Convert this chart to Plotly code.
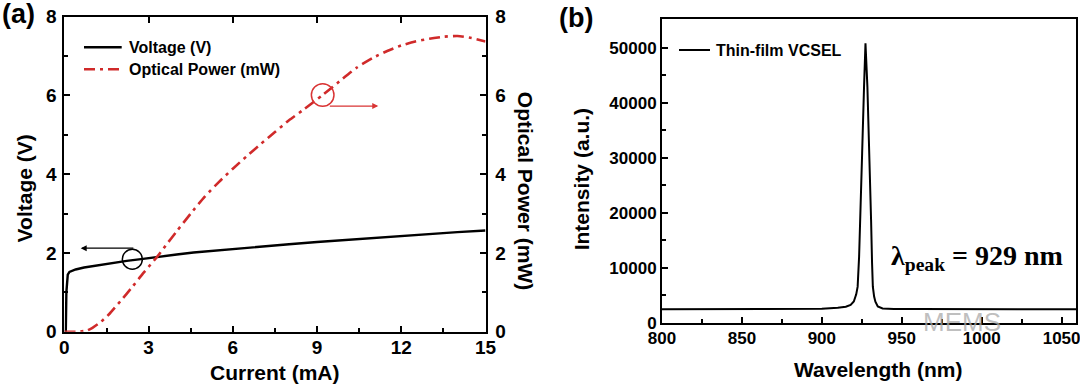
import plotly.graph_objects as go

# ---------------- Data: panel (a) ----------------
current_v = [0.0, 0.05, 0.07, 0.09, 0.12, 0.18, 0.4, 0.7, 1.03, 1.5, 2.22, 2.8, 3.29, 4.0, 4.6, 5.5, 6.97, 8.0, 9.0, 10.0, 11.0, 12.0, 13.0, 14.0, 15.0]
voltage = [0.0, 0.0, 1.0, 1.38, 1.45, 1.52, 1.58, 1.63, 1.67, 1.73, 1.80, 1.85, 1.90, 1.96, 2.01, 2.07, 2.16, 2.22, 2.28, 2.33, 2.39, 2.44, 2.49, 2.53, 2.57]

current_p = [0.0, 0.5, 0.8, 1.0, 1.3, 1.6, 2.0, 2.4, 2.8, 3.3, 3.6, 4.0, 4.5, 5.0, 5.5, 6.0, 6.5, 7.0, 7.5, 8.0, 8.5, 9.2, 9.8, 10.4, 11.0, 11.5, 12.0, 12.5, 13.0, 13.5, 14.0, 14.5, 15.0]
power = [0.0, 0.0, 0.03, 0.1, 0.25, 0.45, 0.78, 1.12, 1.48, 1.90, 2.18, 2.55, 3.0, 3.43, 3.80, 4.14, 4.46, 4.77, 5.07, 5.37, 5.63, 6.01, 6.36, 6.70, 6.96, 7.13, 7.27, 7.37, 7.44, 7.49, 7.51, 7.46, 7.37]

# annotation anchors (data units)
v_circle = (2.42, 1.84)
v_arrow_tail = (2.51, 2.12)
v_arrow_head = (0.58, 2.12)
p_circle = (9.2, 6.01)
p_arrow_tail = (9.4, 5.73)
p_arrow_head = (11.18, 5.73)

# ---------------- Data: panel (b) ----------------
wavelength = [800, 880, 900, 910, 915, 918, 920, 921.5, 922.4, 923.3, 924.1, 925.2, 926.4, 927.3,
              928.5, 929.8, 930.8, 931.4, 931.9, 932.7, 933.5, 935, 938, 945, 960, 1059]
intensity = [2500, 2520, 2600, 2750, 2950, 3300, 3900, 5200, 6600, 12000, 18700, 30800, 42900, 50800,
             42900, 30800, 18700, 11000, 6600, 4800, 3870, 3000, 2650, 2550, 2520, 2500]

x_ticks_a = [0, 3, 6, 9, 12, 15]
y_ticks_a = [0, 2, 4, 6, 8]
x_ticks_b = [800, 850, 900, 950, 1000, 1050]
y_ticks_b = [0, 10000, 20000, 30000, 40000, 50000]

W, H = 1080, 385
def px(x):
    return x / W
def py(y):
    return 1 - y / H

RED = "#d02a2a"
RED2 = "#d93434"
DASH = "11px,5px,3px,5px"
FONT = "Liberation Sans"

fig = go.Figure()
fig.add_trace(go.Scatter(x=current_v, y=voltage, mode="lines", name="Voltage (V)",
                         line=dict(color="black", width=2.4), xaxis="x", yaxis="y", showlegend=False))
fig.add_trace(go.Scatter(x=current_p, y=power, mode="lines", name="Optical Power (mW)",
                         line=dict(color=RED, width=2.6, dash=DASH, shape="spline", smoothing=0.6),
                         xaxis="x", yaxis="y2", showlegend=False))
fig.add_trace(go.Scatter(x=[None], y=[None], xaxis="x3", yaxis="y", showlegend=False, hoverinfo="skip"))
fig.add_trace(go.Scatter(x=wavelength, y=intensity, mode="lines", name="Thin-film VCSEL",
                         line=dict(color="black", width=2), xaxis="x2", yaxis="y3", showlegend=False))

tickfont_a = dict(family=FONT, size=19, color="black", weight="bold")
tickfont_b = dict(family=FONT, size=17, color="black", weight="bold")
common = dict(showline=True, linecolor="black", linewidth=2, ticks="inside", tickcolor="black",
              tickwidth=2, ticklen=6, showgrid=False, zeroline=False, ticklabeloverflow="allow")

fig.update_layout(
    width=W, height=H, margin=dict(l=0, r=0, t=0, b=0, autoexpand=False),
    paper_bgcolor="white", plot_bgcolor="white",
    xaxis=dict(domain=[px(64.4), px(485.5)], range=[0, 15], anchor="y", tickvals=x_ticks_a,
               mirror=True, tickfont=tickfont_a, ticklabelstandoff=-3,
               minor=dict(ticks="inside", dtick=1.5, tick0=0, ticklen=4, tickwidth=1.5, tickcolor="black"),
               **common),
    xaxis3=dict(overlaying="x", side="top", anchor="y", range=[0, 15], tickvals=x_ticks_a,
                showticklabels=False, showline=False, ticks="inside", ticklen=6, tickwidth=2,
                tickcolor="black", showgrid=False, zeroline=False),
    yaxis=dict(domain=[py(331.7), py(16.7)], range=[0, 8], anchor="x", tickvals=y_ticks_a,
               tickfont=tickfont_a, ticklabelstandoff=2,
               minor=dict(ticks="inside", dtick=1, tick0=0, ticklen=4, tickwidth=1.5, tickcolor="black"),
               **common),
    yaxis2=dict(overlaying="y", side="right", anchor="x", range=[0, 8], tickvals=y_ticks_a,
                tickfont=tickfont_a, ticklabelstandoff=4,
                minor=dict(ticks="inside", dtick=1, tick0=0, ticklen=4, tickwidth=1.5, tickcolor="black"),
                **common),
    xaxis2=dict(domain=[px(662), px(1076)], range=[800, 1059], anchor="y3", tickvals=x_ticks_b,
                mirror=True, tickfont=tickfont_b, ticklabelstandoff=-1,
                minor=dict(ticks="inside", dtick=25, tick0=800, ticklen=4, tickwidth=1.5, tickcolor="black"),
                **common),
    yaxis3=dict(domain=[py(323), py(19.3)], range=[0, 55150], anchor="x2", tickvals=y_ticks_b,
                tickformat="d", mirror=True, tickfont=tickfont_b, ticklabelstandoff=0,
                minor=dict(ticks="inside", dtick=5000, tick0=0, ticklen=4, tickwidth=1.5, tickcolor="black"),
                **common),
)

def bold_ann(text, x, y, size, angle=0, xanchor="center", family=FONT, color="black"):
    fig.add_annotation(text=text, x=x, y=y, xref="paper", yref="paper", showarrow=False,
                       textangle=angle, xanchor=xanchor, yanchor="middle",
                       font=dict(family=family, size=size, color=color, weight="bold"))

# axis titles
bold_ann("Current (mA)", px(274.6), py(372.5), 21)
bold_ann("Voltage (V)", px(24.1), py(188.3), 21, angle=-90)
bold_ann("Optical Power (mW)", px(525), py(190.8), 21, angle=90)
bold_ann("Wavelength (nm)", px(878.3), py(369), 21)
bold_ann("Intensity (a.u.)", px(581.3), py(179), 21, angle=-90)
# panel labels
bold_ann("(a)", px(0), py(14), 27, xanchor="left")
bold_ann("(b)", px(557), py(18.5), 27, xanchor="left")

# legends (manual)
fig.add_shape(type="line", xref="paper", yref="paper", x0=px(84), x1=px(121.7), y0=py(47.3), y1=py(47.3),
              line=dict(color="black", width=2.4))
fig.add_shape(type="line", xref="paper", yref="paper", x0=px(84), x1=px(121.7), y0=py(69.3), y1=py(69.3),
              line=dict(color=RED, width=2.6, dash=DASH))
bold_ann("Voltage (V)", px(126.7), py(47.3), 16, xanchor="left")
bold_ann("Optical Power (mW)", px(126.7), py(69.3), 16, xanchor="left")
fig.add_shape(type="line", xref="paper", yref="paper", x0=px(679), x1=px(710), y0=py(50), y1=py(50),
              line=dict(color="black", width=2))
bold_ann("Thin-film VCSEL", px(714.3), py(50), 16, xanchor="left")

# peak label
fig.add_annotation(text="λ<sub>peak</sub> = 929 nm", x=px(889), y=py(257), xref="paper", yref="paper",
                   showarrow=False, xanchor="left", yanchor="middle",
                   font=dict(family="Liberation Serif", size=28, color="black", weight="bold"))

# circles & arrows in panel (a)
fig.add_shape(type="circle", xref="x", yref="y", xsizemode="pixel", ysizemode="pixel",
              xanchor=v_circle[0], yanchor=v_circle[1], x0=-10, x1=10, y0=-10, y1=10,
              line=dict(color="black", width=1.5))
fig.add_shape(type="circle", xref="x", yref="y", xsizemode="pixel", ysizemode="pixel",
              xanchor=p_circle[0], yanchor=p_circle[1], x0=-11.3, x1=11.3, y0=-11.3, y1=11.3,
              line=dict(color=RED2, width=1.5))
fig.add_annotation(x=v_arrow_head[0], y=v_arrow_head[1], ax=v_arrow_tail[0], ay=v_arrow_tail[1],
                   xref="x", yref="y", axref="x", ayref="y", text="", showarrow=True,
                   arrowhead=2, arrowsize=1, arrowwidth=1.2, arrowcolor="black")
fig.add_annotation(x=p_arrow_head[0], y=p_arrow_head[1], ax=p_arrow_tail[0], ay=p_arrow_tail[1],
                   xref="x", yref="y", axref="x", ayref="y", text="", showarrow=True,
                   arrowhead=2, arrowsize=1, arrowwidth=1.2, arrowcolor=RED2)

# watermark
fig.add_annotation(text="MEMS", x=px(1003), y=py(339), xref="paper", yref="paper", showarrow=False,
                   font=dict(family=FONT, size=26, color="rgba(170,170,170,0.75)"))

fig.write_html("out.html", config={"displayModeBar": False},
               post_script="document.body.style.margin='0px';")
